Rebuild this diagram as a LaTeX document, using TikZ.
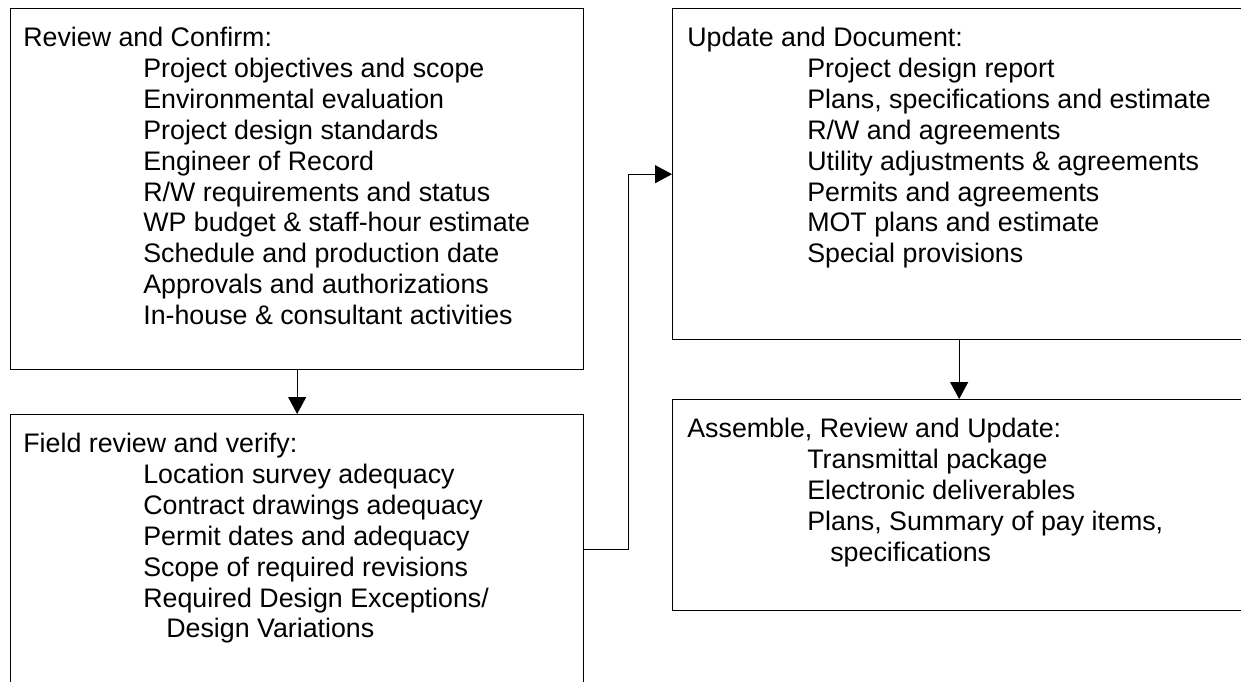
\documentclass[tikz,border=0pt]{standalone}
\usepackage{fontspec}
\setmainfont{Liberation Sans}
\usetikzlibrary{positioning, arrows.meta}

\newcommand{\ind}{\hspace*{2.4cm}}
\newcommand{\indd}{\hspace*{2.86cm}}

\begin{document}
\begin{tikzpicture}[x=0.02cm, y=-0.02cm,
        box/.style={draw, line width=0.8pt, minimum width=11.46cm, inner sep=0pt, anchor=north west},
        list/.style={anchor=north west, inner sep=0pt, align=left, font=\fontsize{15.25}{17.57}\selectfont},
        link/.style={line width=0.6pt, -{Triangle[length=0.34cm, width=0.36cm]}}]
        \path[use as bounding box, clip] (0,0) rectangle (1241,681);

        % Boxes
        \node[box, minimum height=7.22cm] (review) at (10,8) {};
        \node[box, minimum height=5.4cm] (field) at (10,414) {};
        \node[box, minimum height=6.62cm] (update) at (672,8) {};
        \node[box, minimum height=4.22cm] (assemble) at (672,399) {};

        % Texts
        \node[list] (reviewtext) at (23,27) {Review and Confirm:\\
            \ind Project objectives and scope\\
            \ind Environmental evaluation\\
            \ind Project design standards\\
            \ind Engineer of Record\\
            \ind R/W requirements and status\\
            \ind WP budget \& staff-hour estimate\\
            \ind Schedule and production date\\
            \ind Approvals and authorizations\\
            \ind In-house \& consultant activities};
        \node[list] (fieldtext) at (23,433) {Field review and verify:\\
            \ind Location survey adequacy\\
            \ind Contract drawings adequacy\\
            \ind Permit dates and adequacy\\
            \ind Scope of required revisions\\
            \ind Required Design Exceptions/\\
            \indd Design Variations};
        \node[list] (updatetext) at (687,27) {Update and Document:\\
            \ind Project design report\\
            \ind Plans, specifications and estimate\\
            \ind R/W and agreements\\
            \ind Utility adjustments \& agreements\\
            \ind Permits and agreements\\
            \ind MOT plans and estimate\\
            \ind Special provisions};
        \node[list] (assembletext) at (687,418) {Assemble, Review and Update:\\
            \ind Transmittal package\\
            \ind Electronic deliverables\\
            \ind Plans, Summary of pay items,\\
            \indd specifications};

        % Edges
        \draw[link] (review) -- (field);
        \draw[link] (field.east) -- ++(44,0) |- (update.west);
        \draw[link] (update) -- (assemble);
\end{tikzpicture}
\end{document}
